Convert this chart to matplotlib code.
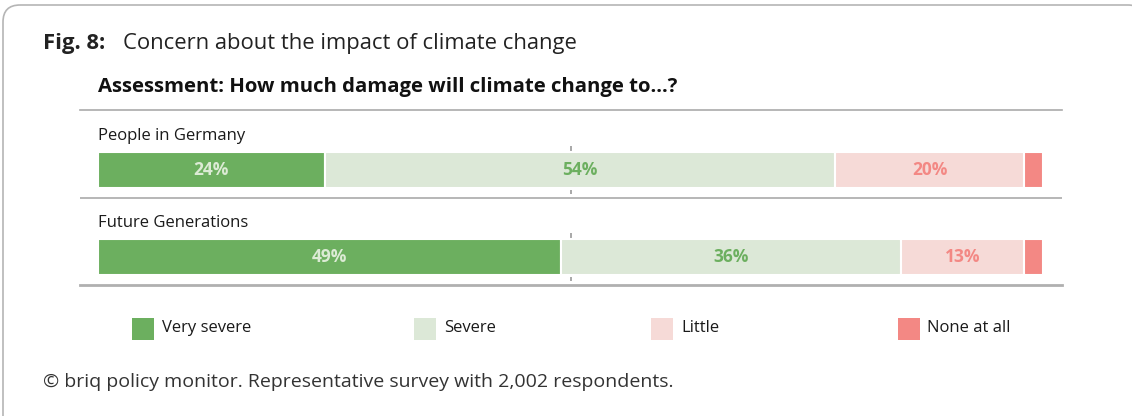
import matplotlib
matplotlib.use("Agg")
import matplotlib.pyplot as plt
from matplotlib.patches import Rectangle, PathPatch
from matplotlib.path import Path
import numpy as np

plt.rcParams['font.family'] = ['Open Sans', 'DejaVu Sans']

# ---- data ----
categories = ["People in Germany", "Future Generations"]
series_names = ["Very severe", "Severe", "Little", "None at all"]
very_severe = [24, 49]
severe = [54, 36]
little = [20, 13]
none_at_all = [2, 2]
labels_shown = [True, True, True, False]

colors = ["#6caf5f", "#dce8d7", "#f6dad7", "#f38884"]
text_colors = ["#dcebd5", "#6caf5f", "#f38884", None]

W, H = 1132, 416
fig = plt.figure(figsize=(W / 100, H / 100), dpi=100)
fig.patch.set_facecolor("white")

def fx(px):
    return px / W

def fy(py):
    return 1 - py / H

# rounded border as a path in figure-fraction coordinates
def rounded_rect_path(x0, y0, x1, y1, r):
    def P(x, y):
        return (fx(x), fy(y))
    verts = [P(x0 + r, y0), P(x1 - r, y0), P(x1, y0), P(x1, y0 + r),
             P(x1, y1 - r), P(x1, y1), P(x1 - r, y1),
             P(x0 + r, y1), P(x0, y1), P(x0, y1 - r),
             P(x0, y0 + r), P(x0, y0), P(x0 + r, y0)]
    codes = [Path.MOVETO, Path.LINETO, Path.CURVE3, Path.CURVE3,
             Path.LINETO, Path.CURVE3, Path.CURVE3,
             Path.LINETO, Path.CURVE3, Path.CURVE3,
             Path.LINETO, Path.CURVE3, Path.CURVE3]
    return Path(verts, codes)

border = PathPatch(rounded_rect_path(3, 5, 1145, 440, 17),
                   transform=fig.transFigure, facecolor="none",
                   edgecolor="#b5b5b5", linewidth=1.2)
fig.patches.append(border)

# title
fig.text(fx(43), fy(44), "Fig. 8:", fontsize=15.8, fontweight="bold",
         color="#222222", va="center", ha="left")
fig.text(fx(123), fy(44), "Concern about the impact of climate change",
         fontsize=15.8, color="#222222", va="center", ha="left")
fig.text(fx(98), fy(87), "Assessment: How much damage will climate change to...?",
         fontsize=14.7, fontweight="bold", color="#111111", va="center", ha="left")

# axes: from px 80..1062 horizontally, 110..285 vertically
ax_left, ax_right, ax_top, ax_bot = 80, 1062, 110, 285
ax = fig.add_axes([fx(ax_left), fy(ax_bot), fx(ax_right) - fx(ax_left),
                   fy(ax_top) - fy(ax_bot)])
px_per_unit = (1043 - 98) / 100.0
ax.set_xlim(-(98 - ax_left) / px_per_unit, 100 + (ax_right - 1043) / px_per_unit)
row_px = 87.0
ax.set_ylim(1 + 28 / row_px, -(60 / row_px))

series = [very_severe, severe, little, none_at_all]
y = np.arange(len(categories))
bar_h = 36 / row_px

# reference line at 50%
for i in y:
    ax.vlines(50, i - bar_h / 2 - 6 / row_px, i - bar_h / 2 - 1.5 / row_px,
              color="#999999", lw=1.2, zorder=1)
    ax.vlines(50, i + bar_h / 2 + 1.5 / row_px, i + bar_h / 2 + 6 / row_px,
              color="#999999", lw=1.2, zorder=1)

left = np.zeros(len(categories))
for s, vals in enumerate(series):
    vals = np.array(vals, dtype=float)
    ax.barh(y, vals, left=left, height=bar_h, color=colors[s],
            edgecolor="white", linewidth=1.5, zorder=2)
    if labels_shown[s]:
        for i, v in enumerate(vals):
            ax.text(left[i] + v / 2, y[i], f"{int(v)}%", ha="center",
                    va="center", fontsize=12.5, fontweight="bold",
                    color=text_colors[s], zorder=3)
    left += vals

for i, c in enumerate(categories):
    ax.text(0, y[i] - 34 / row_px, c, ha="left", va="center",
            fontsize=12, color="#1a1a1a")

# separator lines
ax.axhline(0 + 28 / row_px, color="#aaaaaa", lw=1.2)
for sp in ["left", "right"]:
    ax.spines[sp].set_visible(False)
ax.spines["top"].set_color("#aaaaaa")
ax.spines["top"].set_linewidth(1.2)
ax.spines["bottom"].set_color("#b0b0b0")
ax.spines["bottom"].set_linewidth(2)
ax.set_xticks([])
ax.set_yticks([])
ax.patch.set_alpha(0)

# legend
legend_sq_x = [132, 414, 651, 898]
legend_tx_x = [162, 444, 681, 927]
for s, name in enumerate(series_names):
    fig.patches.append(Rectangle((fx(legend_sq_x[s]), fy(340)),
                                 fx(22), fy(318) - fy(340),
                                 transform=fig.transFigure,
                                 facecolor=colors[s], edgecolor="none"))
    fig.text(fx(legend_tx_x[s]), fy(328), name, fontsize=12,
             color="#1a1a1a", va="center", ha="left")

fig.text(fx(43), fy(382),
         "© briq policy monitor. Representative survey with 2,002 respondents.",
         fontsize=14, color="#333333", va="center", ha="left")

fig.savefig("out.png", dpi=100, facecolor="white")
